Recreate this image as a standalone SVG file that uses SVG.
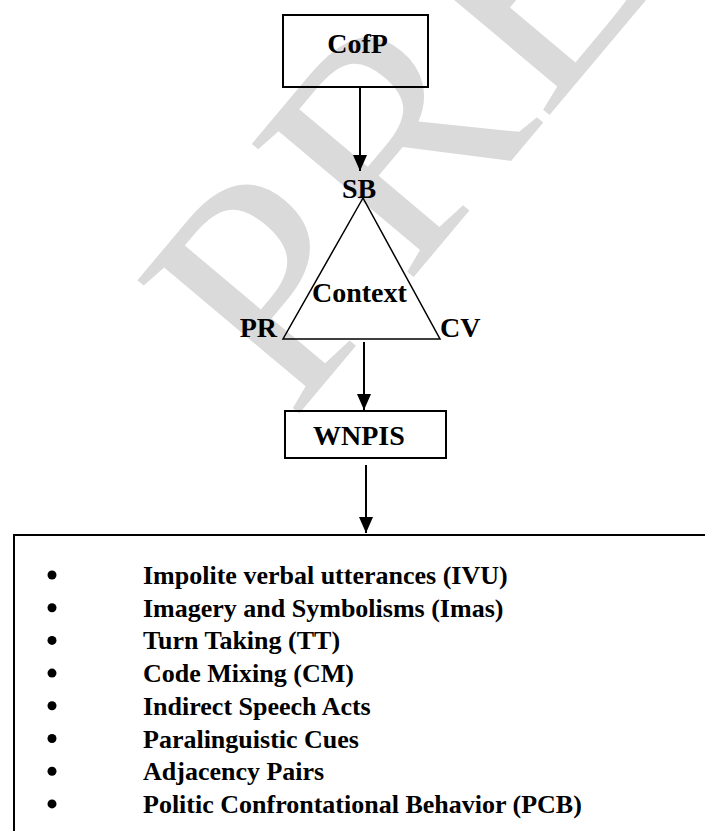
<svg xmlns="http://www.w3.org/2000/svg" width="705" height="831" viewBox="0 0 705 831">
<style>
.wm{font-family:"Liberation Serif","Times New Roman",serif;font-size:320px;fill:#dadada}
.lbl{font-family:"Liberation Serif","Times New Roman",serif;font-weight:bold;font-size:28px;fill:#000}
.item{font-family:"Liberation Serif","Times New Roman",serif;font-weight:bold;font-size:26px;fill:#000}
.box{fill:none;stroke:#000;stroke-width:2}
.tri{fill:none;stroke:#000;stroke-width:1.5}
.conn{stroke:#000;stroke-width:2;fill:none}
.dot{fill:#000}
</style>
<defs>
<marker id="ah" viewBox="0 0 16 14" refX="16" refY="7" markerWidth="16" markerHeight="14" markerUnits="userSpaceOnUse" orient="auto">
<path d="M0,0 L16,7 L0,14 Z" fill="#000"/>
</marker>
</defs>
<rect width="705" height="831" fill="#fff"/>
<g id="watermark">
<text class="wm" transform="translate(292,422) rotate(-50)">PREVIEW</text>
</g>
<g id="connectors">
<line class="conn" x1="360" y1="87" x2="360" y2="171" marker-end="url(#ah)"/>
<line class="conn" x1="364" y1="342" x2="364" y2="410" marker-end="url(#ah)"/>
<line class="conn" x1="366" y1="465" x2="366" y2="533" marker-end="url(#ah)"/>
</g>
<g id="cofp">
<rect class="box" x="283" y="15" width="145" height="72"/>
<text class="lbl" x="357.5" y="53" text-anchor="middle">CofP</text>
</g>
<g id="context">
<polygon class="tri" points="363,198 283,339 440,339"/>
<text class="lbl" x="342" y="198">SB</text>
<text class="lbl" x="312" y="302">Context</text>
<text class="lbl" x="277" y="337" text-anchor="end">PR</text>
<text class="lbl" x="440" y="337">CV</text>
</g>
<g id="wnpis">
<rect class="box" x="285" y="411" width="161" height="47"/>
<text class="lbl" x="313" y="445">WNPIS</text>
</g>
<g id="list">
<rect class="box" x="14" y="535" width="720" height="320"/>
<circle class="dot" cx="52" cy="575" r="4.5"/>
<circle class="dot" cx="52" cy="607.7" r="4.5"/>
<circle class="dot" cx="52" cy="640.4" r="4.5"/>
<circle class="dot" cx="52" cy="673.1" r="4.5"/>
<circle class="dot" cx="52" cy="705.8" r="4.5"/>
<circle class="dot" cx="52" cy="738.5" r="4.5"/>
<circle class="dot" cx="52" cy="771.2" r="4.5"/>
<circle class="dot" cx="52" cy="803.9" r="4.5"/>
<text class="item" x="143" y="584">Impolite verbal utterances (IVU)</text>
<text class="item" x="143" y="616.7">Imagery and Symbolisms (Imas)</text>
<text class="item" x="143" y="649.4">Turn Taking (TT)</text>
<text class="item" x="143" y="682.1">Code Mixing (CM)</text>
<text class="item" x="143" y="714.8">Indirect Speech Acts</text>
<text class="item" x="143" y="747.5">Paralinguistic Cues</text>
<text class="item" x="143" y="780.2">Adjacency Pairs</text>
<text class="item" x="143" y="812.9">Politic Confrontational Behavior (PCB)</text>
</g>
</svg>
